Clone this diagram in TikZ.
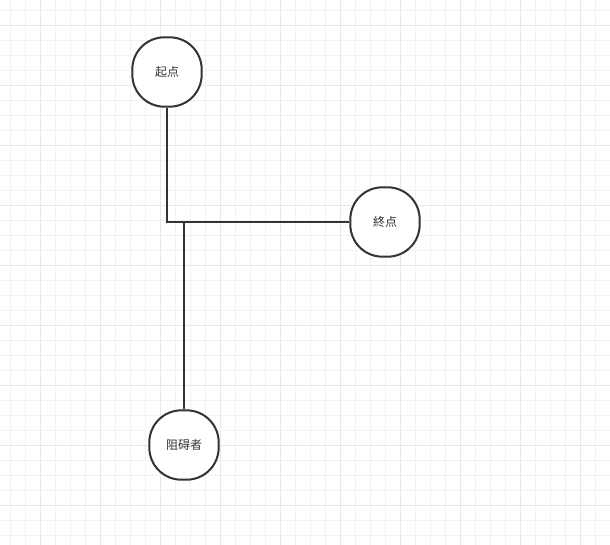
\documentclass[tikz,border=0pt]{standalone}
\usepackage{fontspec}
\newfontfamily\cjk{Noto Sans CJK SC}
\begin{document}
\begin{tikzpicture}[x=0.75pt,y=-0.75pt,
  box/.style={draw=black!80,line width=1.5pt,rounded corners=24pt,minimum width=52pt,minimum height=52pt,fill=white,inner sep=0pt,font=\cjk\fontsize{9}{11}\selectfont,text=black!80},
  wire/.style={draw=black!80,line width=1.5pt}]
\fill[white] (0,0) rectangle (610,545);
\useasboundingbox (0,0) rectangle (610,545);
\foreach \x in {10,25,...,610} \draw[black!5,line width=0.6pt] (\x,0) -- (\x,545);
\foreach \y in {10,25,...,545} \draw[black!5,line width=0.6pt] (0,\y) -- (610,\y);
\foreach \x in {40,100,...,610} \draw[black!9,line width=0.6pt] (\x,0) -- (\x,545);
\foreach \y in {25,85,...,545} \draw[black!9,line width=0.6pt] (0,\y) -- (610,\y);
\node[box] (s) at (167,72) {起点};
\node[box] (e) at (385,222) {終点};
\node[box] (b) at (184,445) {阻碍者};
\coordinate (j) at (167,222);
\coordinate (k) at (184,222);
\draw[wire] (s) -- (j) -- (e);
\draw[wire] (k) -- (b);
\fill[black!80] (j) circle (1.3);
\end{tikzpicture}
\end{document}
